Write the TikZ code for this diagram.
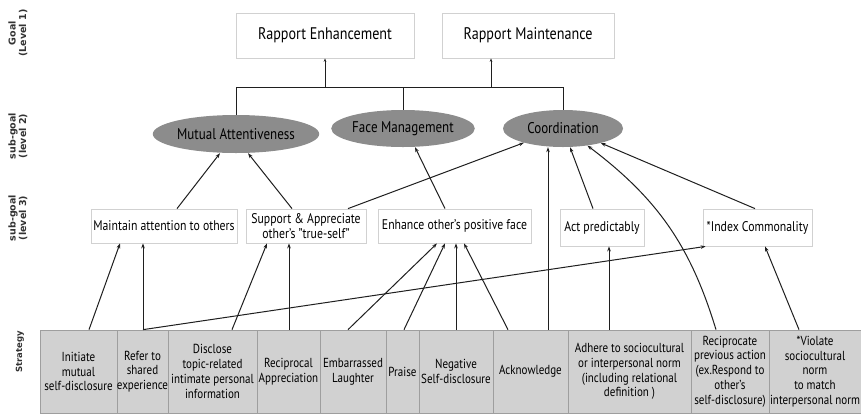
\documentclass[tikz,border=0pt]{standalone}
\usepackage{fontspec}
\setmainfont{PT Sans}[FakeStretch=0.84]
\newfontfamily\lblfont{DejaVu Sans}
\usetikzlibrary{arrows.meta,shapes.geometric}
\begin{document}
\begin{tikzpicture}[x=1pt,y=-1pt,
 conn/.style={draw=black!88, line width=1pt, -{Stealth[length=5pt,width=3.6pt]}},
 link/.style={draw=black!88, line width=1pt},
 topbox/.style={draw=black!18, line width=0.8pt, fill=white, inner sep=0pt, font=\fontsize{16.8}{18}\selectfont},
 oval/.style={ellipse, fill=black!45, inner sep=0pt, font=\fontsize{15.5}{17}\selectfont},
 subbox/.style={draw=black!18, line width=0.8pt, fill=white, inner sep=0pt, align=center, font=\fontsize{14}{15}\selectfont},
 strat/.style={draw=black!38, line width=0.7pt, fill=black!18, inner sep=0pt, align=center, minimum height=83pt, font=\fontsize{13.1}{14.8}\selectfont},
 lvl/.style={rotate=90, align=center, font=\lblfont\bfseries\fontsize{9.5}{10.5}\selectfont, text=black!80}]
\useasboundingbox (0,0) rectangle (861,413);
\fill[white] (0,0) rectangle (861,413);

% level labels
\node[lvl] (lab1) at (18,33) {Goal\\(Level 1)};
\node[lvl] (lab2) at (18,136) {sub-goal\\(level 2)};
\node[lvl] (lab3) at (18,218) {sub-goal\\(level 3)};
\node[lvl, font=\lblfont\bfseries\fontsize{8.5}{10}\selectfont] (lab4) at (20,352) {Strategy};

% goals
\node[topbox, minimum width=178pt, minimum height=45pt] (re) at (325,35.5) {Rapport Enhancement};
\node[topbox, minimum width=172pt, minimum height=45pt] (rm) at (528,35.5) {Rapport Maintenance};

% level 2
\node[oval, minimum width=135pt, minimum height=38pt] (ma) at (236,134) {Mutual Attentiveness};
\node[oval, minimum width=112pt, minimum height=37pt] (fm) at (403,128.5) {Face Management};
\node[oval, minimum width=120pt, minimum height=37pt] (co) at (563,128.5) {Coordination};

% level 3
\node[subbox, minimum width=146pt, minimum height=34pt] (l3a) at (164,226) {Maintain attention to others};
\node[subbox, minimum width=120pt, minimum height=34pt] (l3b) at (306,226) {Support \& Appreciate\\other's "true-self"};
\node[subbox, minimum width=153pt, minimum height=34pt] (l3c) at (454.5,226) {Enhance other's positive face};
\node[subbox, minimum width=84pt, minimum height=37pt] (l3d) at (602,227.5) {Act predictably};
\node[subbox, minimum width=109pt, minimum height=37pt] (l3e) at (757.5,227.5) {*Index Commonality};

% strategies
\node[strat, minimum width=77pt] (s1) at (78.5,371.5) {Initiate\\mutual\\self-disclosure};
\node[strat, minimum width=51pt] (s2) at (142.5,371.5) {Refer to\\shared\\experience};
\node[strat, minimum width=89pt] (s3) at (212.5,371.5) {Disclose\\topic-related\\intimate personal\\information};
\node[strat, minimum width=63pt] (s4) at (288.5,371.5) {Reciprocal\\Appreciation};
\node[strat, minimum width=66pt] (s5) at (353,371.5) {Embarrassed\\Laughter};
\node[strat, minimum width=33pt] (s6) at (402.5,371.5) {Praise};
\node[strat, minimum width=74pt] (s7) at (456,371.5) {Negative\\Self-disclosure};
\node[strat, minimum width=75pt] (s8) at (530.5,371.5) {Acknowledge};
\node[strat, minimum width=123pt] (s9) at (629.5,371.5) {Adhere to sociocultural\\or interpersonal norm\\(including relational\\definition )};
\node[strat, minimum width=78pt] (s10) at (730,371.5) {Reciprocate\\previous action\\(ex.Respond to\\other's\\self-disclosure)};
\node[strat, minimum width=92pt] (s11) at (815,371.5) {*Violate\\sociocultural\\norm\\to match\\interpersonal norm};

% bus between level 2 and goals
\coordinate (busL) at (236,87);
\coordinate (busR) at (563,87);
\draw[link] (ma.north) -- (busL) -- (busR) -- (co.north);
\draw[link] (fm.north) -- (fm.north |- busL);
\draw[conn, -{Stealth[length=3.5pt,width=2.6pt]}, line width=0.9pt] (re.south |- busL) -- (re.south);
\draw[conn, -{Stealth[length=3.5pt,width=2.6pt]}, line width=0.9pt] ([xshift=-37pt]rm.south |- busL) -- ([xshift=-37pt]rm.south);

% level 3 -> level 2
\draw[conn] ([xshift=13pt]l3a.north) -- ([xshift=-16pt]ma.south);
\draw[conn] ([xshift=-14pt]l3b.north) -- ([xshift=12pt]ma.south);
\draw[conn] ([xshift=42pt]l3b.north) -- (co.200);
\draw[conn] ([xshift=-9.5pt]l3c.north) -- ([xshift=12pt]fm.south);
\draw[conn] ([xshift=-9pt]l3d.north) -- ([xshift=7pt]co.south);
\draw[conn] ([xshift=-2.5pt]l3e.north) -- (co.-21);

% strategies -> level 3 / level 2
\draw[conn] ([xshift=10.5pt]s1.north) -- ([xshift=-44pt]l3a.south);
\draw[conn] ([xshift=0.5pt]s2.north) -- ([xshift=-21pt]l3a.south);
\draw[conn] ([xshift=0.5pt]s2.north) -- ([xshift=3pt]l3e.south west);
\draw[conn] ([xshift=19.5pt]s3.north) -- ([xshift=-39pt]l3b.south);
\draw[conn] ([xshift=0.5pt]s4.north) -- ([xshift=-17pt]l3b.south);
\draw[conn] ([xshift=-5pt]s5.north) -- ([xshift=-17.5pt]l3c.south);
\draw[conn] ([xshift=1.5pt]s6.north) -- ([xshift=-9.5pt]l3c.south);
\draw[conn] (s7.north) -- ([xshift=1.5pt]l3c.south);
\draw[conn] ([xshift=-22.5pt]s8.north) -- ([xshift=9.5pt]l3c.south);
\draw[conn] ([xshift=17.5pt]s8.north) -- ([xshift=-15pt]co.south);
\draw[conn] ([xshift=-20.5pt]s9.north) -- ([xshift=7pt]l3d.south);
\draw[conn] ([xshift=-14pt]s10.north) to[bend right=18] (co.-35);
\draw[conn] ([xshift=-16pt]s11.north) -- ([xshift=7.5pt]l3e.south);
\end{tikzpicture}
\end{document}
